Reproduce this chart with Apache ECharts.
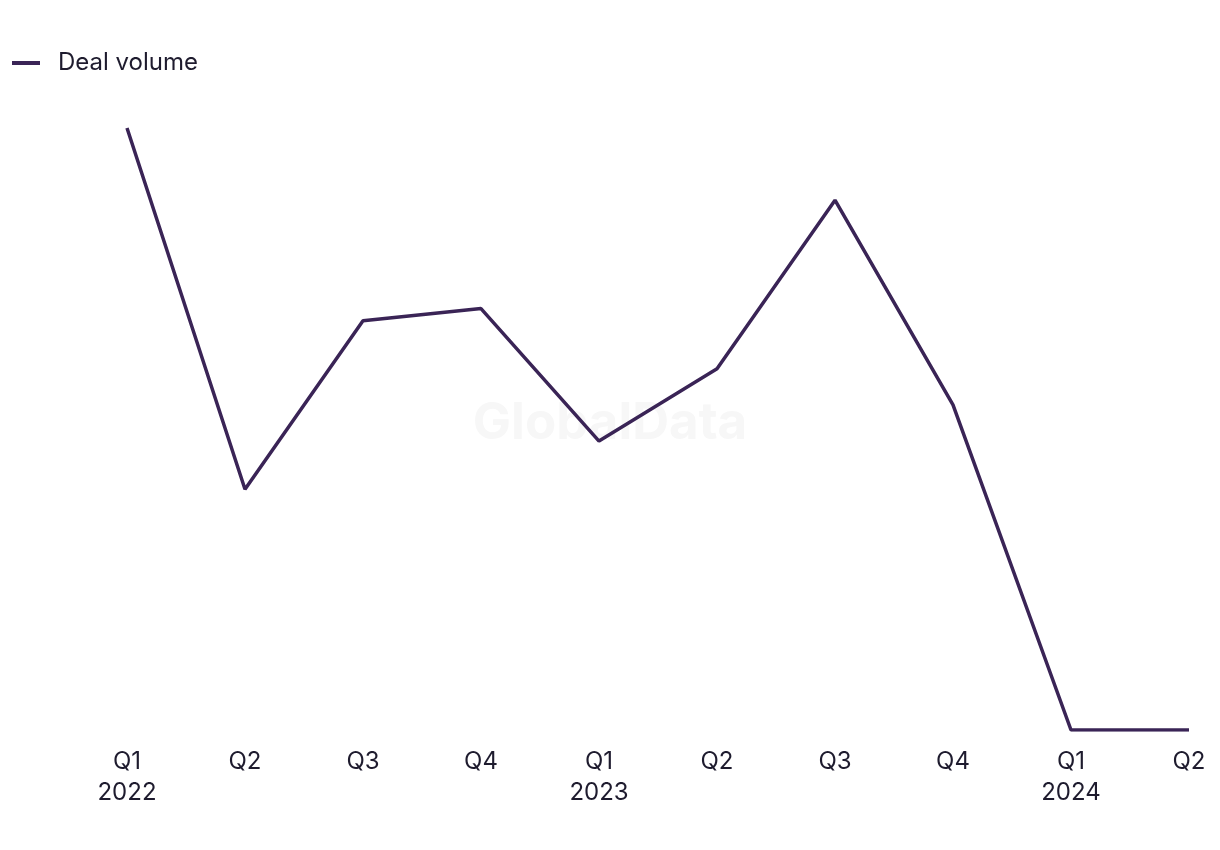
<!DOCTYPE html>
<html>
<head>
<meta charset="utf-8">
<script src="https://cdn.jsdelivr.net/npm/echarts@6/dist/echarts.min.js"></script>
<style>html,body{margin:0;padding:0;background:#fff}#c{width:1220px;height:850px}</style>
</head>
<body>
<div id="c"></div>
<script>
const categories = ['Q1\n2022','Q2','Q3','Q4','Q1\n2023','Q2','Q3','Q4','Q1\n2024','Q2'];
const dealVolume = [50, 20, 34, 35, 24, 30, 44, 27, 0, 0];
const seriesName = 'Deal volume';

const chart = echarts.init(document.getElementById('c'));
chart.setOption({
  backgroundColor: '#ffffff',
  animation: false,
  textStyle: { fontFamily: 'Inter' },
  graphic: [{
    type: 'text', left: 'center', top: 398, z: -10,
    style: { text: 'GlobalData', fontSize: 51, fontWeight: 'bold', fontFamily: 'Inter', fill: '#f7f7f7' }
  }],
  legend: {
    left: 7, top: 46, icon: 'rect', itemWidth: 28, itemHeight: 4, itemGap: 20,
    textStyle: { fontSize: 24, color: '#1e1b2e', fontFamily: 'Inter', padding: [0,0,0,13] },
    data: [{ name: seriesName, icon: 'rect' }]
  },
  grid: { left: 127, right: 31, top: 128, bottom: 120, containLabel: false },
  xAxis: {
    type: 'category', data: categories, boundaryGap: false,
    axisLine: { show: false }, axisTick: { show: false },
    axisLabel: { fontSize: 24, color: '#1e1b2e', margin: 16, lineHeight: 31, interval: 0, fontFamily: 'Inter' }
  },
  yAxis: {
    type: 'value', min: 0, max: 50,
    axisLine: { show: false }, axisTick: { show: false }, axisLabel: { show: false }, splitLine: { show: false }
  },
  series: [{
    name: seriesName, type: 'line', data: dealVolume, symbol: 'none',
    lineStyle: { color: '#3a2456', width: 3.5 }, itemStyle: { color: '#3a2456' }
  }]
});
</script>
</body>
</html>
